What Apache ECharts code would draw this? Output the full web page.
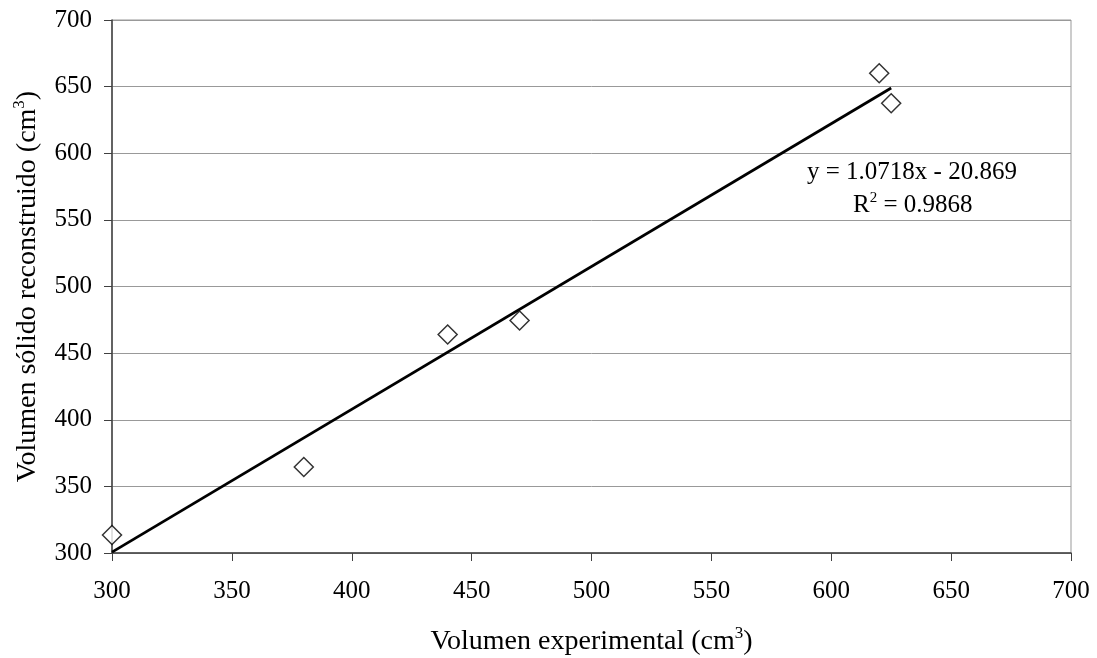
<!DOCTYPE html>
<html>
<head>
<meta charset="utf-8">
<script src="https://cdn.jsdelivr.net/npm/echarts@6/dist/echarts.min.js"></script>
<style>
  html, body { margin: 0; padding: 0; background: #fff; }
  #chart { width: 1097px; height: 658px; }
</style>
</head>
<body>
<div id="chart"></div>
<script>
// Measured volumes (cm³)
const volExperimental = [300, 380, 440, 470, 620, 625];
const volReconstruido = [313.5, 364.5, 464, 474.5, 660, 637.5];

// Linear fit reported for the data
const slope = 1.0718;
const intercept = -20.869;
const rSquared = 0.9868;
const fitRange = [300, 625];

const axisMin = 300;
const axisMax = 700;
const axisStep = 50;

const FONT = '"Liberation Serif", "Times New Roman", serif';

const points = volExperimental.map((x, i) => [x, volReconstruido[i]]);
const fitLine = fitRange.map(x => [x, slope * x + intercept]);

const chart = echarts.init(document.getElementById('chart'), null, { renderer: 'canvas' });

const supRich = {
  sup: { fontFamily: FONT, fontSize: 17, color: '#000', verticalAlign: 'top', padding: [0, 0, 16, 0] }
};

chart.setOption({
  backgroundColor: '#fff',
  animation: false,
  grid: {
    left: 112, right: 26, top: 20, bottom: 105,
    containLabel: false,
    outerBoundsMode: 'none',
    show: true, borderColor: '#999', borderWidth: 1, backgroundColor: 'transparent'
  },
  xAxis: {
    type: 'value',
    min: axisMin, max: axisMax, interval: axisStep,
    name: 'Volumen experimental (cm{sup|3})',
    nameLocation: 'middle',
    nameGap: 72,
    nameTextStyle: { fontFamily: FONT, fontSize: 28, color: '#000', rich: supRich },
    axisLine: { show: true, onZero: false, lineStyle: { color: '#404040', width: 1.5 } },
    axisTick: { show: true, inside: false, length: 8, lineStyle: { color: '#404040', width: 1 } },
    axisLabel: { fontFamily: FONT, fontSize: 25, color: '#000', margin: 26 },
    splitLine: { show: false }
  },
  yAxis: {
    type: 'value',
    min: axisMin, max: axisMax, interval: axisStep,
    name: 'Volumen sólido reconstruido (cm{sup|3})',
    nameLocation: 'middle',
    nameGap: 68,
    nameRotate: 90,
    nameTextStyle: { fontFamily: FONT, fontSize: 28, color: '#000', rich: supRich },
    axisLine: { show: true, onZero: false, lineStyle: { color: '#404040', width: 1.5 } },
    axisTick: { show: true, inside: false, length: 8, lineStyle: { color: '#404040', width: 1 } },
    axisLabel: { fontFamily: FONT, fontSize: 25, color: '#000', margin: 20 },
    splitLine: { show: true, lineStyle: { color: '#999', width: 1 } }
  },
  series: [
    {
      name: 'Ajuste lineal',
      type: 'line',
      data: fitLine,
      symbol: 'none',
      lineStyle: { color: '#000', width: 2.8 },
      z: 2
    },
    {
      name: 'Datos',
      type: 'scatter',
      data: points,
      symbol: 'diamond',
      symbolSize: [19, 19],
      itemStyle: { color: '#fff', borderColor: '#000', borderWidth: 1.5 },
      z: 3
    }
  ],
  graphic: [
    {
      type: 'text',
      left: 807,
      top: 160,
      style: {
        text: 'y = ' + slope.toFixed(4) + 'x - ' + Math.abs(intercept).toFixed(3),
        fontFamily: FONT, fontSize: 25, fill: '#000'
      }
    },
    {
      type: 'text',
      left: 853,
      top: 191,
      style: {
        text: 'R{sup|2} = ' + rSquared.toFixed(4),
        fontFamily: FONT, fontSize: 25, fill: '#000',
        rich: { sup: { fontFamily: FONT, fontSize: 15, fill: '#000', verticalAlign: 'top', padding: [0, 0, 14, 0] } }
      }
    }
  ]
});
</script>
</body>
</html>
